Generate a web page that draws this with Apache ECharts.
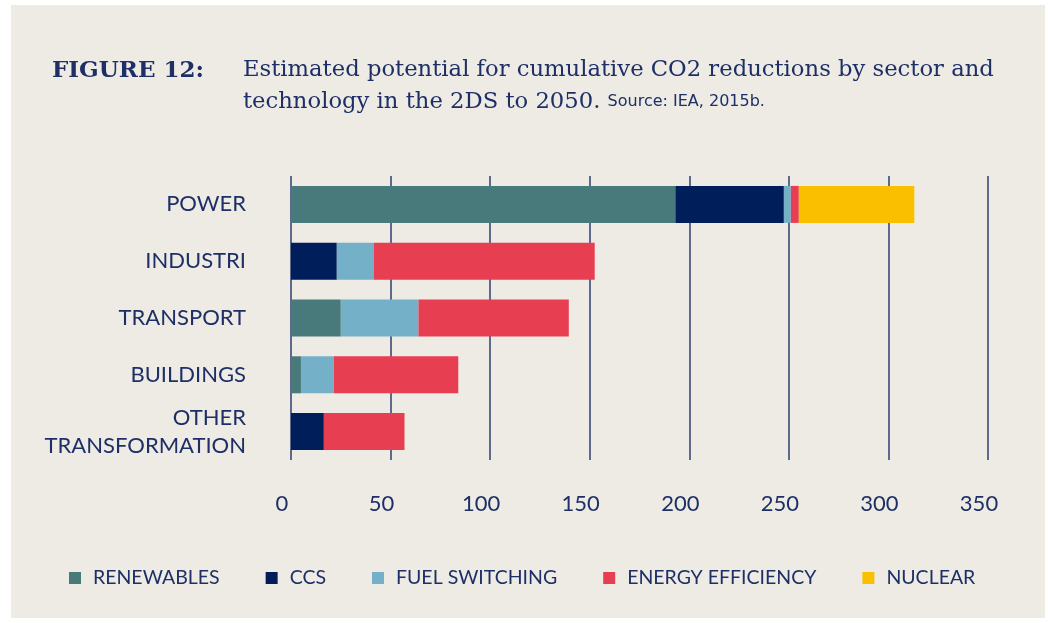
<!DOCTYPE html>
<html>
<head>
<meta charset="utf-8">
<script src="https://cdn.jsdelivr.net/npm/echarts@6/dist/echarts.min.js"></script>
<style>
  body { margin: 0; background: #ffffff; }
  #panel { position: absolute; left: 11px; top: 5px; width: 1034px; height: 613px; background: #eeebe4; }
  #chart { position: absolute; left: 0; top: 0; width: 1048px; height: 623px; }
</style>
</head>
<body>
<div id="panel"></div>
<div id="chart"></div>
<script>
// sectors, top to bottom
var sectors = ['POWER', 'INDUSTRI', 'TRANSPORT', 'BUILDINGS', 'OTHER\nTRANSFORMATION'];

// cumulative CO2 reductions (Gt)
var renewables = [193, 0, 25, 5, 0];
var ccs = [54.5, 23, 0, 0, 16.5];
var fuelSwitching = [3.5, 18.5, 39, 16.5, 0];
var energyEfficiency = [4, 111, 75.5, 62.5, 40.5];
var nuclear = [58, 0, 0, 0, 0];

var xTicks = [0, 350, 50]; // min, max, interval

var navy = '#1d2f66';
var sans = 'Lato';
var serif = 'DejaVu Serif';

var chart = echarts.init(document.getElementById('chart'));

function stack(name, data, color) {
  return {
    name: name,
    type: 'bar',
    stack: 'total',
    barWidth: 37,
    data: data,
    itemStyle: { color: color },
    emphasis: { disabled: true }
  };
}

chart.setOption({
  backgroundColor: 'transparent',
  animation: false,
  textStyle: { fontFamily: sans },
  title: [
    {
      text: 'FIGURE 12:',
      left: 47,
      top: 55,
      textStyle: { fontFamily: serif, fontWeight: 'bold', fontSize: 23, color: navy }
    },
    {
      text: 'Estimated potential for cumulative CO2 reductions by sector and\ntechnology in the 2DS to 2050. {s|Source: IEA, 2015b.}',
      left: 238,
      top: 49,
      textStyle: {
        fontFamily: serif, fontWeight: 'normal', fontSize: 22.7, color: navy, lineHeight: 32,
        rich: { s: { fontFamily: 'DejaVu Sans', fontSize: 16, color: navy, lineHeight: 32 } }
      }
    }
  ],
  legend: {
    left: 64,
    top: 563,
    itemWidth: 12,
    itemHeight: 12,
    itemGap: 46,
    icon: 'rect',
    textStyle: { fontSize: 19.5, color: navy, fontFamily: sans, padding: [0, 0, 0, 7] },
    data: ['RENEWABLES', 'CCS', 'FUEL SWITCHING', 'ENERGY EFFICIENCY', 'NUCLEAR']
  },
  grid: { left: 291, right: 60, top: 176, bottom: 163 },
  xAxis: {
    type: 'value',
    min: xTicks[0],
    max: xTicks[1],
    interval: xTicks[2],
    axisLine: { show: false },
    axisTick: { show: false },
    splitLine: { lineStyle: { color: '#2d3f70', width: 1.5 } },
    axisLabel: { color: navy, fontSize: 22, margin: 33, padding: [0, 18, 0, 0] }
  },
  yAxis: {
    type: 'category',
    inverse: true,
    data: sectors,
    axisLine: { show: false },
    axisTick: { show: false },
    axisLabel: { color: navy, fontSize: 22, margin: 45, lineHeight: 28, padding: [0, 0, 4, 0] }
  },
  series: [
    stack('RENEWABLES', renewables, '#48797b'),
    stack('CCS', ccs, '#001f5a'),
    stack('FUEL SWITCHING', fuelSwitching, '#74b1c9'),
    stack('ENERGY EFFICIENCY', energyEfficiency, '#e83e51'),
    stack('NUCLEAR', nuclear, '#fac000')
  ]
});
</script>
</body>
</html>
